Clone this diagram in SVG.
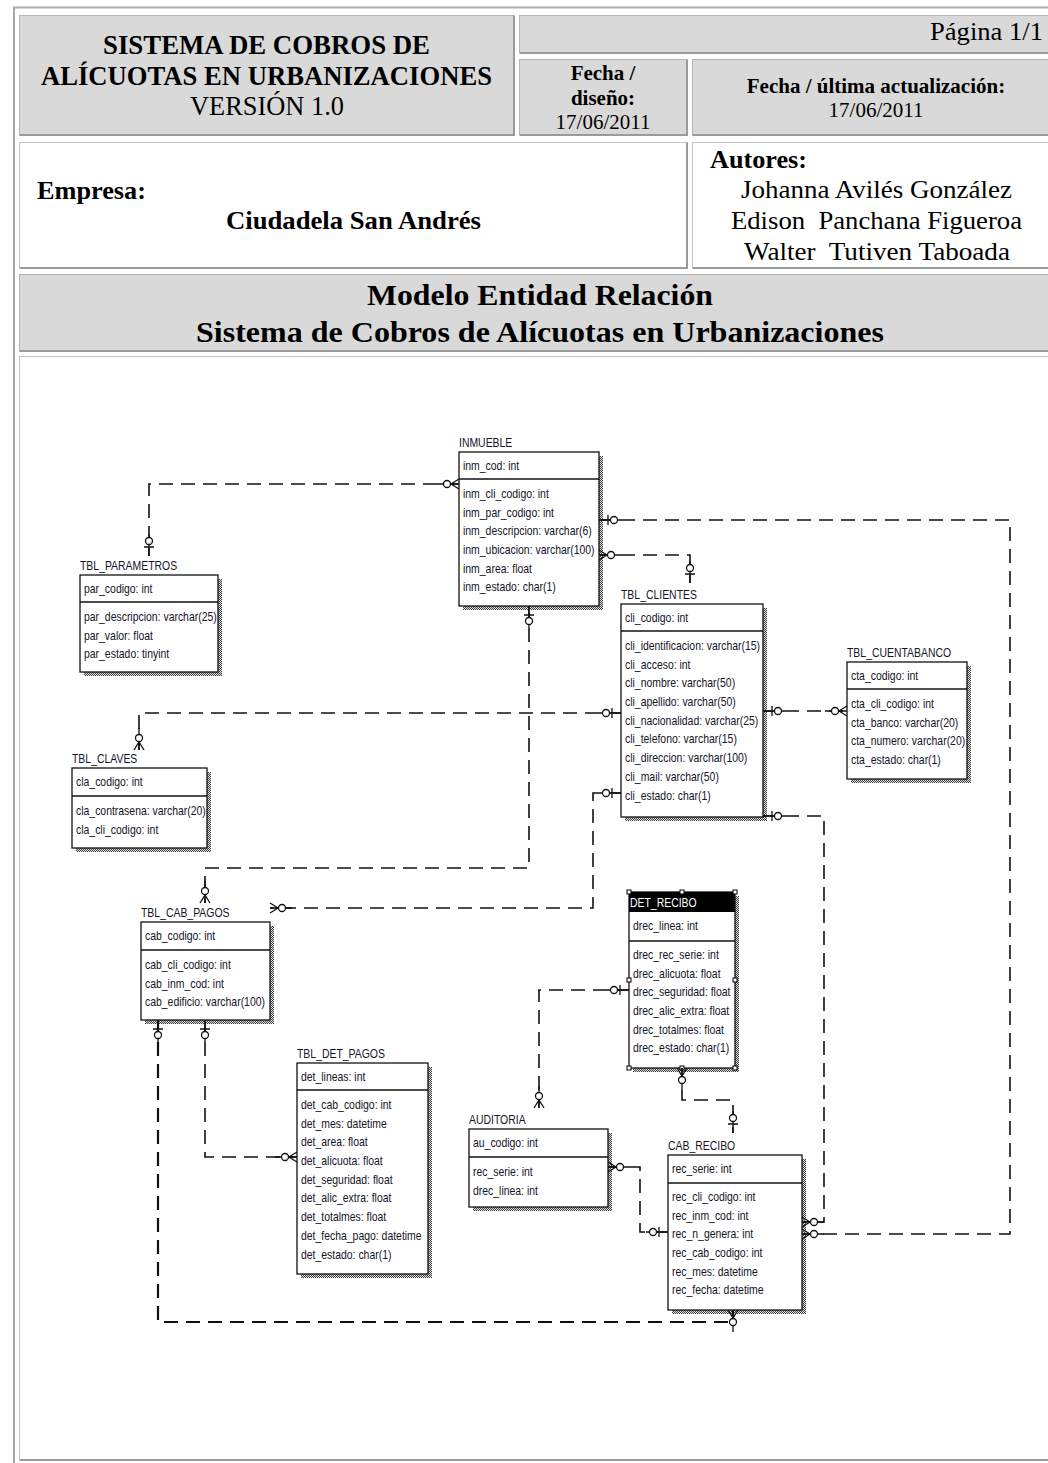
<svg xmlns="http://www.w3.org/2000/svg" xmlns:xlink="http://www.w3.org/1999/xlink" width="1048" height="1463" viewBox="0 0 1048 1463">
<style>
.cellg{fill:#d9d9d9;stroke:#b4b4b4;stroke-width:1}
.cellw{fill:#ffffff;stroke:#c4c4c4;stroke-width:1}
.edge{stroke:#9a9a9a;stroke-width:2;fill:none}
.hb{font-family:"Liberation Serif","Times New Roman",serif;font-weight:bold;fill:#000}
.hn{font-family:"Liberation Serif","Times New Roman",serif;font-weight:normal;fill:#000}
.box{fill:#fff;stroke:#111;stroke-width:1.3}
.shadow{fill:url(#dots)}
.sep{stroke:#111;stroke-width:1.3}
.lbl,.at{font-family:"Liberation Sans",Arial,sans-serif;font-size:12px;fill:#141428}
.conn{fill:none;stroke:#111;stroke-width:1.6;stroke-dasharray:14 8}
.handle{fill:#fff;stroke:#000;stroke-width:1}
</style>
<defs>
<pattern id="dots" width="2" height="2" patternUnits="userSpaceOnUse">
<rect width="2" height="2" fill="#ddd"/>
<rect width="1" height="1" fill="#444"/>
<rect x="1" y="1" width="1" height="1" fill="#444"/>
</pattern>
<g id="many" stroke="#111" stroke-width="1.3" fill="none">
<path d="M0,-5 L8,0 L0,5 M0,0 H22"/>
<circle cx="12" cy="0" r="3.5" fill="#fff"/>
</g>
<g id="one" stroke="#111" stroke-width="1.3" fill="none">
<path d="M0,0 H22 M9,-5 V5"/>
<circle cx="15" cy="0" r="3.5" fill="#fff"/>
</g>
</defs>

<rect width="1048" height="1463" fill="#fff"/>

<g id="page-frame">
<line x1="13" y1="7.5" x2="1048" y2="7.5" stroke="#b0b0b0" stroke-width="2"/>
<line x1="14" y1="7" x2="14" y2="1463" stroke="#a8a8a8" stroke-width="2"/>
</g>

<g id="header">
<g id="cell-title">
<rect class="cellg" x="19.5" y="15.5" width="494" height="119"/>
<path class="edge" d="M19.5,135 H514 V15.5"/>
<text class="hb" x="103" y="54" font-size="28" textLength="327" lengthAdjust="spacingAndGlyphs">SISTEMA DE COBROS DE</text>
<text class="hb" x="41" y="85" font-size="28" textLength="451" lengthAdjust="spacingAndGlyphs">ALÍCUOTAS EN URBANIZACIONES</text>
<text class="hn" x="190" y="115" font-size="28" textLength="154" lengthAdjust="spacingAndGlyphs">VERSIÓN 1.0</text>
</g>
<g id="cell-pagina">
<rect class="cellg" x="519.5" y="15.5" width="540" height="37"/>
<path class="edge" d="M519.5,53 H1048"/>
<text class="hn" x="930" y="40" font-size="26" textLength="113" lengthAdjust="spacingAndGlyphs">Página 1/1</text>
</g>
<g id="cell-fecha-diseno">
<rect class="cellg" x="519.5" y="59.5" width="167" height="75"/>
<path class="edge" d="M519.5,135 H687 V59.5"/>
<text class="hb" x="603" y="80" font-size="21" text-anchor="middle">Fecha /</text>
<text class="hb" x="603" y="105" font-size="21" text-anchor="middle">diseño:</text>
<text class="hn" x="603" y="129" font-size="21" text-anchor="middle">17/06/2011</text>
</g>
<g id="cell-fecha-act">
<rect class="cellg" x="692.5" y="59.5" width="370" height="75"/>
<path class="edge" d="M692.5,135 H1048"/>
<text class="hb" x="876" y="93" font-size="21" text-anchor="middle">Fecha / última actualización:</text>
<text class="hn" x="876" y="117" font-size="21" text-anchor="middle">17/06/2011</text>
</g>
<g id="cell-empresa">
<rect class="cellw" x="19.5" y="142.5" width="667" height="125"/>
<path class="edge" d="M19.5,268 H687 V142.5"/>
<text class="hb" x="37" y="199" font-size="26" textLength="109" lengthAdjust="spacingAndGlyphs">Empresa:</text>
<text class="hb" x="226" y="229" font-size="26" textLength="255" lengthAdjust="spacingAndGlyphs">Ciudadela San Andrés</text>
</g>
<g id="cell-autores">
<rect class="cellw" x="692.5" y="142.5" width="370" height="125"/>
<path class="edge" d="M692.5,268 H1048"/>
<text class="hb" x="710" y="168" font-size="26" textLength="97" lengthAdjust="spacingAndGlyphs">Autores:</text>
<text class="hn" x="741" y="198" font-size="26" textLength="271" lengthAdjust="spacingAndGlyphs">Johanna Avilés González</text>
<text class="hn" x="731" y="229" font-size="26" textLength="291" lengthAdjust="spacingAndGlyphs" xml:space="preserve">Edison  Panchana Figueroa</text>
<text class="hn" x="744" y="260" font-size="26" textLength="266" lengthAdjust="spacingAndGlyphs" xml:space="preserve">Walter  Tutiven Taboada</text>
</g>
<g id="cell-modelo">
<rect class="cellg" x="19.5" y="274.5" width="1040" height="76"/>
<path class="edge" d="M19.5,351 H1048"/>
<text class="hb" x="367" y="305" font-size="30" textLength="346" lengthAdjust="spacingAndGlyphs">Modelo Entidad Relación</text>
<text class="hb" x="196" y="342" font-size="30" textLength="688" lengthAdjust="spacingAndGlyphs">Sistema de Cobros de Alícuotas en Urbanizaciones</text>
</g>
<g id="cell-diagram">
<rect class="cellw" x="19.5" y="356.5" width="1040" height="1103"/>
<path class="edge" d="M19.5,1460 H1048"/>
</g>
</g>

<g id="e-parametros">
<text class="lbl" transform="translate(80,570) scale(.87,1)">TBL_PARAMETROS</text>
<rect class="shadow" x="84" y="579" width="138" height="97"/>
<rect class="box" x="80" y="575" width="138" height="97"/>
<line class="sep" x1="80" y1="602" x2="218" y2="602"/>
<g transform="translate(84,0) scale(.87,1)">
<text class="at" y="593">par_codigo: int</text>
<text class="at" y="621">par_descripcion: varchar(25)</text>
<text class="at" y="639.7">par_valor: float</text>
<text class="at" y="658.4">par_estado: tinyint</text>
</g>
</g>

<g id="e-inmueble">
<text class="lbl" transform="translate(459,447) scale(.87,1)">INMUEBLE</text>
<rect class="shadow" x="463" y="456" width="140" height="154"/>
<rect class="box" x="459" y="452" width="140" height="154"/>
<line class="sep" x1="459" y1="479" x2="599" y2="479"/>
<g transform="translate(463,0) scale(.87,1)">
<text class="at" y="470">inm_cod: int</text>
<text class="at" y="498">inm_cli_codigo: int</text>
<text class="at" y="516.7">inm_par_codigo: int</text>
<text class="at" y="535.4">inm_descripcion: varchar(6)</text>
<text class="at" y="554.1">inm_ubicacion: varchar(100)</text>
<text class="at" y="572.8">inm_area: float</text>
<text class="at" y="591.5">inm_estado: char(1)</text>
</g>
</g>

<g id="e-clientes">
<text class="lbl" transform="translate(621,599) scale(.87,1)">TBL_CLIENTES</text>
<rect class="shadow" x="625" y="608" width="142" height="213"/>
<rect class="box" x="621" y="604" width="142" height="213"/>
<line class="sep" x1="621" y1="631" x2="763" y2="631"/>
<g transform="translate(625,0) scale(.87,1)">
<text class="at" y="622">cli_codigo: int</text>
<text class="at" y="650">cli_identificacion: varchar(15)</text>
<text class="at" y="668.7">cli_acceso: int</text>
<text class="at" y="687.4">cli_nombre: varchar(50)</text>
<text class="at" y="706.1">cli_apellido: varchar(50)</text>
<text class="at" y="724.8">cli_nacionalidad: varchar(25)</text>
<text class="at" y="743.5">cli_telefono: varchar(15)</text>
<text class="at" y="762.2">cli_direccion: varchar(100)</text>
<text class="at" y="780.9">cli_mail: varchar(50)</text>
<text class="at" y="799.6">cli_estado: char(1)</text>
</g>
</g>

<g id="e-cuentabanco">
<text class="lbl" transform="translate(847,657) scale(.87,1)">TBL_CUENTABANCO</text>
<rect class="shadow" x="851" y="666" width="120" height="117"/>
<rect class="box" x="847" y="662" width="120" height="117"/>
<line class="sep" x1="847" y1="689" x2="967" y2="689"/>
<g transform="translate(851,0) scale(.87,1)">
<text class="at" y="680">cta_codigo: int</text>
<text class="at" y="708">cta_cli_codigo: int</text>
<text class="at" y="726.7">cta_banco: varchar(20)</text>
<text class="at" y="745.4">cta_numero: varchar(20)</text>
<text class="at" y="764.1">cta_estado: char(1)</text>
</g>
</g>

<g id="e-claves">
<text class="lbl" transform="translate(72,763) scale(.87,1)">TBL_CLAVES</text>
<rect class="shadow" x="76" y="772" width="135" height="80"/>
<rect class="box" x="72" y="768" width="135" height="80"/>
<line class="sep" x1="72" y1="796" x2="207" y2="796"/>
<g transform="translate(76,0) scale(.87,1)">
<text class="at" y="786">cla_codigo: int</text>
<text class="at" y="815">cla_contrasena: varchar(20)</text>
<text class="at" y="833.7">cla_cli_codigo: int</text>
</g>
</g>

<g id="e-cab-pagos">
<text class="lbl" transform="translate(141,917) scale(.87,1)">TBL_CAB_PAGOS</text>
<rect class="shadow" x="145" y="926" width="129" height="98"/>
<rect class="box" x="141" y="922" width="129" height="98"/>
<line class="sep" x1="141" y1="950" x2="270" y2="950"/>
<g transform="translate(145,0) scale(.87,1)">
<text class="at" y="940">cab_codigo: int</text>
<text class="at" y="969">cab_cli_codigo: int</text>
<text class="at" y="987.7">cab_inm_cod: int</text>
<text class="at" y="1006.4">cab_edificio: varchar(100)</text>
</g>
</g>

<g id="e-det-recibo">
<rect class="shadow" x="633" y="896" width="106" height="176"/>
<rect class="box" x="629" y="892" width="106" height="176"/>
<rect x="629" y="892" width="106" height="20" fill="#000"/>
<line class="sep" x1="629" y1="941" x2="735" y2="941"/>
<text class="lbl" transform="translate(630,907) scale(.87,1)" style="fill:#fff">DET_RECIBO</text>
<g transform="translate(633,0) scale(.87,1)">
<text class="at" y="930">drec_linea: int</text>
<text class="at" y="959">drec_rec_serie: int</text>
<text class="at" y="977.7">drec_alicuota: float</text>
<text class="at" y="996.4">drec_seguridad: float</text>
<text class="at" y="1015.1">drec_alic_extra: float</text>
<text class="at" y="1033.8">drec_totalmes: float</text>
<text class="at" y="1052.5">drec_estado: char(1)</text>
</g>
<rect class="handle" x="627" y="890" width="4" height="4"/>
<rect class="handle" x="680" y="890" width="4" height="4"/>
<rect class="handle" x="733" y="890" width="4" height="4"/>
<rect class="handle" x="627" y="978" width="4" height="4"/>
<rect class="handle" x="733" y="978" width="4" height="4"/>
<rect class="handle" x="627" y="1066" width="4" height="4"/>
<rect class="handle" x="680" y="1066" width="4" height="4"/>
<rect class="handle" x="733" y="1066" width="4" height="4"/>
</g>

<g id="e-det-pagos">
<text class="lbl" transform="translate(297,1058) scale(.87,1)">TBL_DET_PAGOS</text>
<rect class="shadow" x="301" y="1067" width="131" height="211"/>
<rect class="box" x="297" y="1063" width="131" height="211"/>
<line class="sep" x1="297" y1="1090" x2="428" y2="1090"/>
<g transform="translate(301,0) scale(.87,1)">
<text class="at" y="1081">det_lineas: int</text>
<text class="at" y="1109">det_cab_codigo: int</text>
<text class="at" y="1127.7">det_mes: datetime</text>
<text class="at" y="1146.4">det_area: float</text>
<text class="at" y="1165.1">det_alicuota: float</text>
<text class="at" y="1183.8">det_seguridad: float</text>
<text class="at" y="1202.5">det_alic_extra: float</text>
<text class="at" y="1221.2">det_totalmes: float</text>
<text class="at" y="1239.9">det_fecha_pago: datetime</text>
<text class="at" y="1258.6">det_estado: char(1)</text>
</g>
</g>

<g id="e-auditoria">
<text class="lbl" transform="translate(469,1124) scale(.87,1)">AUDITORIA</text>
<rect class="shadow" x="473" y="1133" width="139" height="78"/>
<rect class="box" x="469" y="1129" width="139" height="78"/>
<line class="sep" x1="469" y1="1157" x2="608" y2="1157"/>
<g transform="translate(473,0) scale(.87,1)">
<text class="at" y="1147">au_codigo: int</text>
<text class="at" y="1176">rec_serie: int</text>
<text class="at" y="1194.7">drec_linea: int</text>
</g>
</g>

<g id="e-cab-recibo">
<text class="lbl" transform="translate(668,1150) scale(.87,1)">CAB_RECIBO</text>
<rect class="shadow" x="672" y="1159" width="134" height="155"/>
<rect class="box" x="668" y="1155" width="134" height="155"/>
<line class="sep" x1="668" y1="1183" x2="802" y2="1183"/>
<g transform="translate(672,0) scale(.87,1)">
<text class="at" y="1173">rec_serie: int</text>
<text class="at" y="1201">rec_cli_codigo: int</text>
<text class="at" y="1219.7">rec_inm_cod: int</text>
<text class="at" y="1238.4">rec_n_genera: int</text>
<text class="at" y="1257.1">rec_cab_codigo: int</text>
<text class="at" y="1275.8">rec_mes: datetime</text>
<text class="at" y="1294.5">rec_fecha: datetime</text>
</g>
</g>

<g id="connectors">
<path class="conn" d="M459,484 H149 V556"/>
<use xlink:href="#many" transform="translate(459,484) rotate(180)"/>
<use xlink:href="#one" transform="translate(149,556) rotate(-90)"/>

<path class="conn" d="M599,520 H1010 V1234 H802"/>
<use xlink:href="#one" transform="translate(599,520)"/>
<use xlink:href="#many" transform="translate(802,1234)"/>

<path class="conn" d="M599,555 H690 V583"/>
<use xlink:href="#many" transform="translate(599,555)"/>
<use xlink:href="#one" transform="translate(690,583) rotate(-90)"/>

<path class="conn" d="M529,606 V868 H205 V903"/>
<use xlink:href="#one" transform="translate(529,606) rotate(90)"/>
<use xlink:href="#many" transform="translate(205,903) rotate(-90)"/>

<path class="conn" d="M621,713 H139 V750"/>
<use xlink:href="#one" transform="translate(621,713) rotate(180)"/>
<use xlink:href="#many" transform="translate(139,750) rotate(-90)"/>

<path class="conn" d="M621,793 H593 V908 H270"/>
<use xlink:href="#one" transform="translate(621,793) rotate(180)"/>
<use xlink:href="#many" transform="translate(270,908)"/>

<path class="conn" d="M763,711 H847"/>
<use xlink:href="#one" transform="translate(763,711)"/>
<use xlink:href="#many" transform="translate(847,711) rotate(180)"/>

<path class="conn" d="M763,816 H824 V1222 H802"/>
<use xlink:href="#one" transform="translate(763,816)"/>
<use xlink:href="#many" transform="translate(802,1222)"/>

<path class="conn" d="M158,1020 V1322 H733 V1310" style="stroke-width:2.2"/>
<use xlink:href="#one" transform="translate(158,1020) rotate(90)"/>
<use xlink:href="#many" transform="translate(733,1310) rotate(90)"/>

<path class="conn" d="M205,1020 V1157 H297"/>
<use xlink:href="#one" transform="translate(205,1020) rotate(90)"/>
<use xlink:href="#many" transform="translate(297,1157) rotate(180)"/>

<path class="conn" d="M629,990 H539 V1108"/>
<use xlink:href="#one" transform="translate(629,990) rotate(180)"/>
<use xlink:href="#many" transform="translate(539,1108) rotate(-90)"/>

<path class="conn" d="M682,1068 V1100 H733 V1133"/>
<use xlink:href="#many" transform="translate(682,1068) rotate(90)"/>
<use xlink:href="#one" transform="translate(733,1133) rotate(-90)"/>

<path class="conn" d="M608,1167 H640 V1232 H668"/>
<use xlink:href="#many" transform="translate(608,1167)"/>
<use xlink:href="#one" transform="translate(668,1232) rotate(180)"/>
</g>
</svg>
